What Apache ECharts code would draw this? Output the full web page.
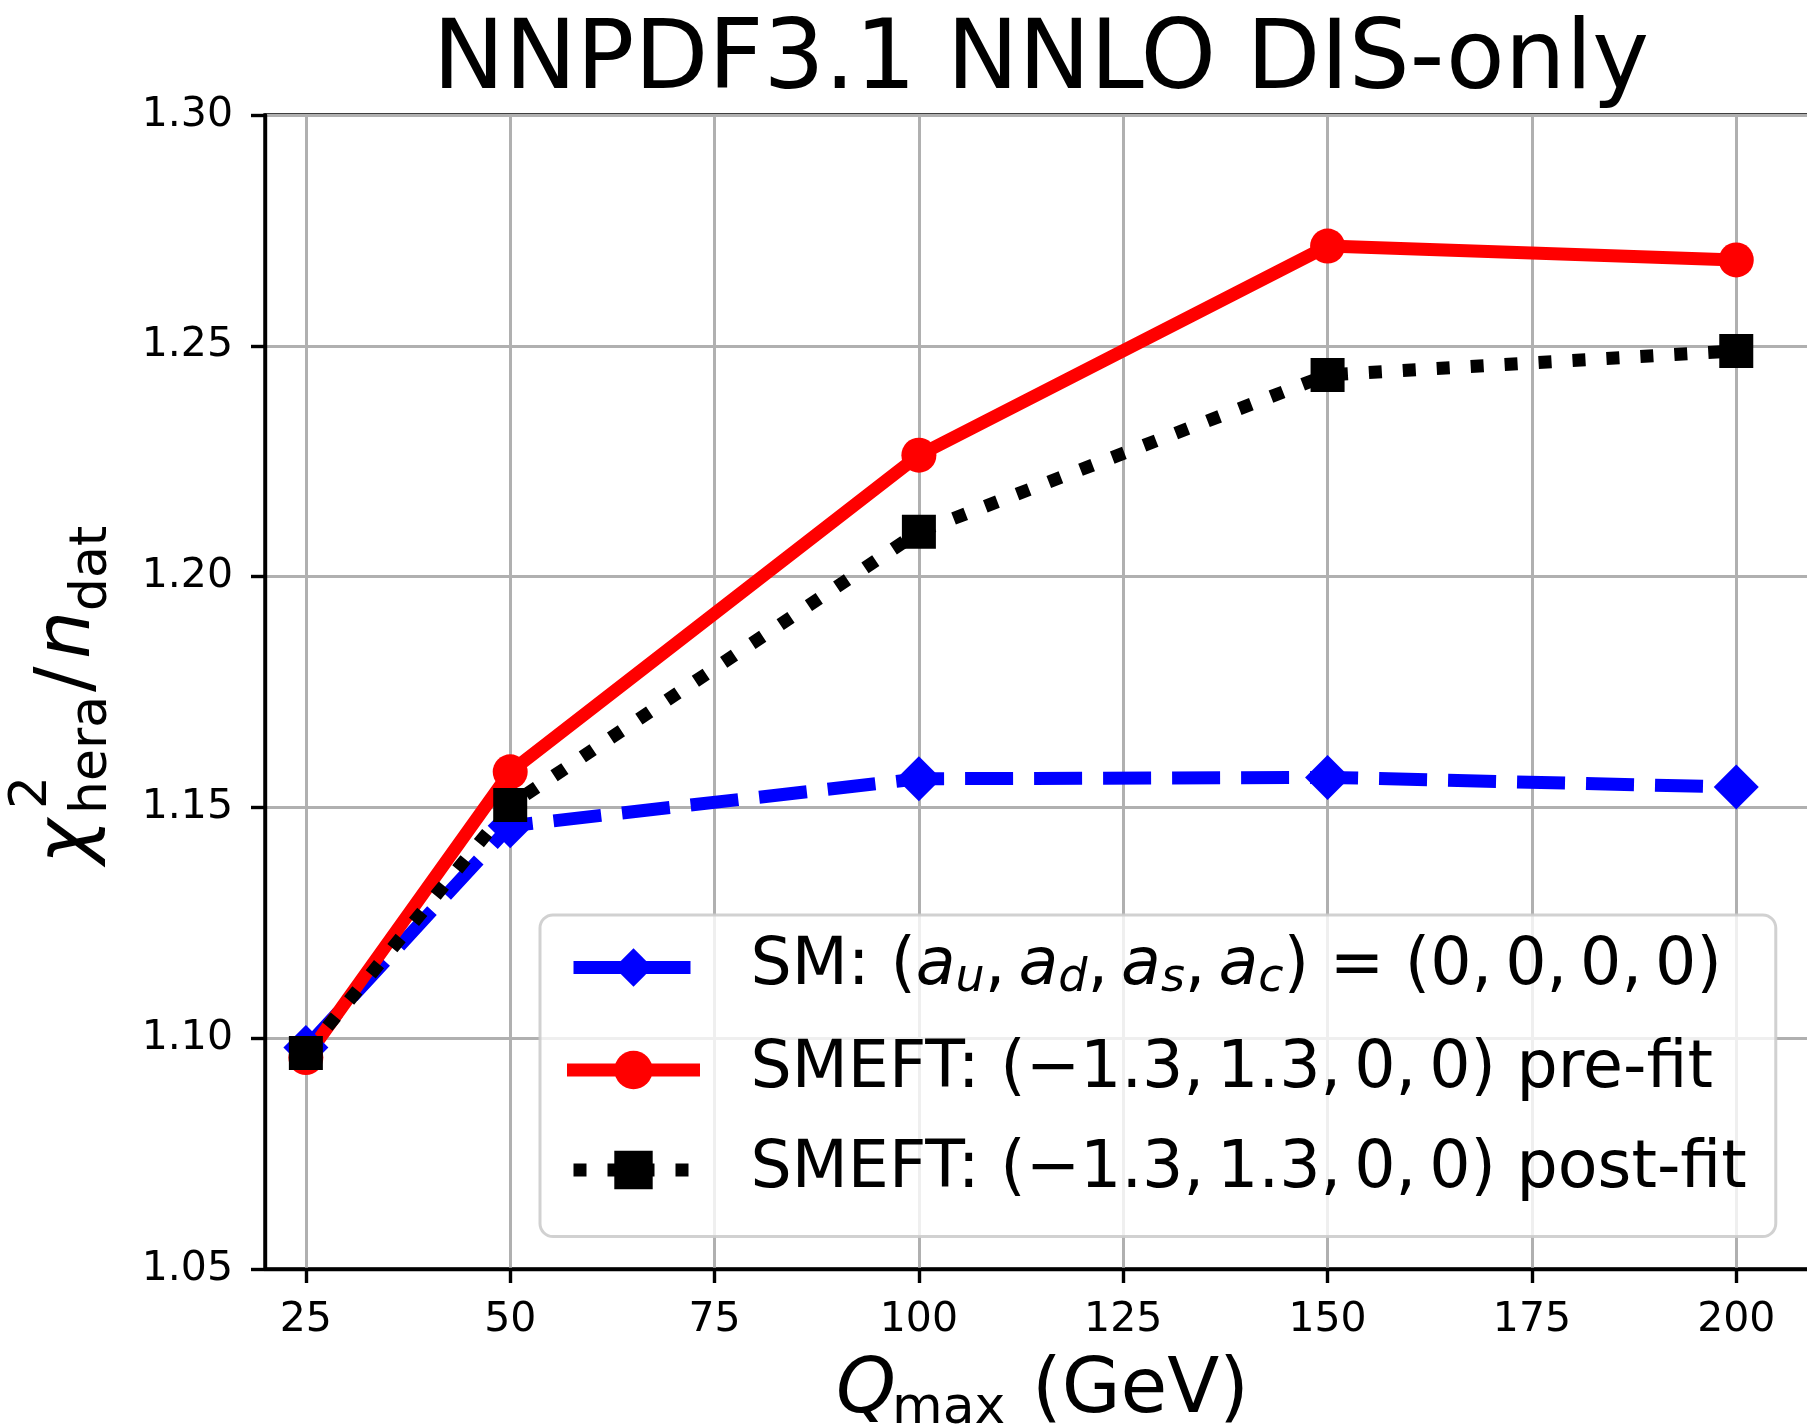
<!DOCTYPE html>
<html>
<head>
<meta charset="utf-8">
<title>NNPDF3.1 NNLO DIS-only</title>
<script src="https://cdn.jsdelivr.net/npm/echarts@6/dist/echarts.min.js"></script>
<style>
  html, body { margin: 0; padding: 0; background: #ffffff; overflow: hidden; }
  #main { width: 1840px; height: 1427px; }
</style>
</head>
<body>
<div id="main"></div>
<script>
// values
var qMax = [25, 50, 100, 150, 200]
var smValues = [1.098, 1.146, 1.1562, 1.1565, 1.1544]
var preFitValues = [1.0958, 1.1577, 1.2263, 1.2716, 1.2686]
var postFitValues = [1.0968, 1.1505, 1.2097, 1.2437, 1.2489]
var xTicks = [25, 50, 75, 100, 125, 150, 175, 200]

var titleText = 'NNPDF3.1 NNLO DIS-only'
var seriesNames = ['SM', 'SMEFT pre-fit', 'SMEFT post-fit']
var legendLabels = {
  'SM': '{t|SM: (}{i|a}{s|u}{t|,\u2009}{i|a}{s|d}{t|,\u2009}{i|a}{s|s}{t|,\u2009}{i|a}{s|c}{t|) = (0,\u20090,\u20090,\u20090)}',
  'SMEFT pre-fit': '{t|SMEFT: (\u22121.3,\u20091.3,\u20090,\u20090) pre-fit}',
  'SMEFT post-fit': '{t|SMEFT: (\u22121.3,\u20091.3,\u20090,\u20090) post-fit}'
}

var font = 'DejaVu Sans'

function pairs (ys) {
  var out = []
  for (var i = 0; i < qMax.length; i++) {
    out.push([qMax[i], ys[i]])
  }
  return out
}

var chartDom = document.getElementById('main')
var myChart = echarts.init(chartDom)
var option

option = {
  animation: false,
  backgroundColor: '#ffffff',
  title: {
    text: titleText,
    left: 1041,
    top: 15,
    padding: 0,
    textAlign: 'center',
    textStyle: {
      fontFamily: font,
      fontSize: 96,
      fontWeight: 'normal',
      color: '#000'
    }
  },
  grid: {
    left: 265,
    top: 115,
    right: 22,
    bottom: 158,
    show: true,
    borderColor: '#000',
    borderWidth: 3.4,
    backgroundColor: 'transparent'
  },
  xAxis: {
    type: 'value',
    min: 20,
    max: 210,
    axisLine: { show: true, lineStyle: { color: '#000', width: 3.4 } },
    axisTick: {
      show: true,
      customValues: xTicks,
      length: 14,
      lineStyle: { color: '#000', width: 3.4 }
    },
    axisLabel: {
      customValues: xTicks,
      margin: 31,
      fontFamily: font,
      fontSize: 41,
      color: '#000'
    },
    splitLine: {
      show: true,
      lineStyle: { color: '#b0b0b0', width: 3 }
    }
  },
  yAxis: {
    type: 'value',
    min: 1.05,
    max: 1.30,
    interval: 0.05,
    axisLine: { show: true, lineStyle: { color: '#000', width: 3.4 } },
    axisTick: {
      show: true,
      length: 14,
      lineStyle: { color: '#000', width: 3.4 }
    },
    axisLabel: {
      margin: 32,
      fontFamily: font,
      fontSize: 41,
      color: '#000',
      formatter: function (v) { return v.toFixed(2) }
    },
    splitLine: {
      show: true,
      lineStyle: { color: '#b0b0b0', width: 3 }
    }
  },
  legend: {
    orient: 'vertical',
    left: 540,
    top: 915,
    padding: [20, 29, 34, 27],
    itemGap: 35,
    itemWidth: 120,
    itemHeight: 48,
    selectedMode: false,
    backgroundColor: 'rgba(255,255,255,0.8)',
    borderColor: 'rgba(204,204,204,0.9)',
    borderWidth: 3,
    borderRadius: 13,
    formatter: function (name) { return legendLabels[name] },
    textStyle: {
      fontFamily: font,
      fontSize: 65,
      color: '#000',
      padding: [0, 0, 0, 52],
      rich: {
        t: { fontFamily: font, fontSize: 65, color: '#000', lineHeight: 70 },
        i: { fontFamily: font, fontSize: 65, fontStyle: 'italic', color: '#000', lineHeight: 70 },
        s: { fontFamily: font, fontSize: 46, fontStyle: 'italic', color: '#000', lineHeight: 37, verticalAlign: 'bottom' }
      }
    },
    data: [
      { name: seriesNames[0], lineStyle: { width: 13, type: [48, 21], cap: 'butt' } },
      { name: seriesNames[1], lineStyle: { width: 13, type: 'solid', cap: 'square' } },
      { name: seriesNames[2], lineStyle: { width: 13, type: [13, 21], cap: 'butt' } }
    ]
  },
  graphic: [
    {
      // y axis title, rotated
      type: 'group',
      x: 69,
      y: 864,
      rotation: Math.PI / 2,
      silent: true,
      children: [
        { type: 'text', x: 0, y: 0, style: { text: 'χ', fontFamily: font, fontSize: 76, fontStyle: 'italic', fill: '#000', verticalAlign: 'middle' } },
        { type: 'text', x: 55, y: -37, style: { text: '2', fontFamily: font, fontSize: 52, fill: '#000', verticalAlign: 'middle' } },
        { type: 'text', x: 50, y: 23, style: { text: 'hera', fontFamily: font, fontSize: 52, fill: '#000', verticalAlign: 'middle' } },
        { type: 'text', x: 172, y: 0, style: { text: '/', fontFamily: font, fontSize: 76, fill: '#000', verticalAlign: 'middle' } },
        { type: 'text', x: 205, y: 0, style: { text: 'n', fontFamily: font, fontSize: 76, fontStyle: 'italic', fill: '#000', verticalAlign: 'middle' } },
        { type: 'text', x: 253, y: 23, style: { text: 'dat', fontFamily: font, fontSize: 52, fill: '#000', verticalAlign: 'middle' } }
      ]
    },
    {
      // x axis title
      type: 'group',
      silent: true,
      children: [
        { type: 'text', x: 836, y: 1392, style: { text: 'Q', fontFamily: font, fontSize: 76, fontStyle: 'italic', fill: '#000', verticalAlign: 'middle' } },
        { type: 'text', x: 892, y: 1409, style: { text: 'max', fontFamily: font, fontSize: 52, fill: '#000', verticalAlign: 'middle' } },
        { type: 'text', x: 1032, y: 1392, style: { text: '(GeV)', fontFamily: font, fontSize: 76, fill: '#000', verticalAlign: 'middle' } }
      ]
    }
  ],
  series: [
    {
      name: seriesNames[0],
      type: 'line',
      data: pairs(smValues),
      symbol: 'diamond',
      symbolSize: 45,
      showAllSymbol: true,
      silent: true,
      itemStyle: { color: '#0000ff' },
      lineStyle: { color: '#0000ff', width: 13, type: [48, 21], cap: 'butt', join: 'round' },
      emphasis: { disabled: true }
    },
    {
      name: seriesNames[1],
      type: 'line',
      data: pairs(preFitValues),
      symbol: 'circle',
      symbolSize: 35,
      showAllSymbol: true,
      silent: true,
      itemStyle: { color: '#ff0000' },
      lineStyle: { color: '#ff0000', width: 13, type: 'solid', cap: 'square', join: 'round' },
      emphasis: { disabled: true }
    },
    {
      name: seriesNames[2],
      type: 'line',
      data: pairs(postFitValues),
      symbol: 'rect',
      symbolSize: 34,
      showAllSymbol: true,
      silent: true,
      itemStyle: { color: '#000000' },
      lineStyle: { color: '#000000', width: 13, type: [13, 21], cap: 'butt', join: 'round' },
      emphasis: { disabled: true }
    }
  ]
}

option && myChart.setOption(option)
</script>
</body>
</html>
